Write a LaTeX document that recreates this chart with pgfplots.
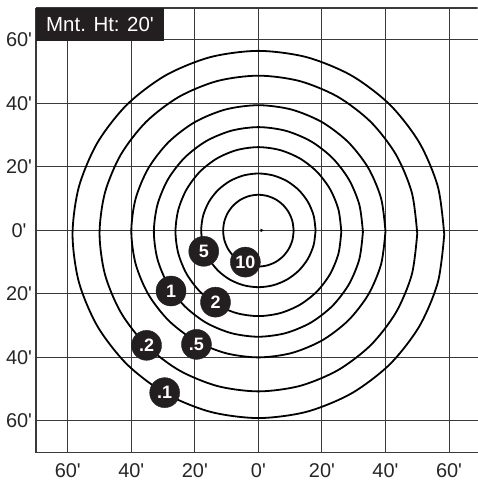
\documentclass[border=0pt]{standalone}
\usepackage{pgfplots}
\pgfplotsset{compat=1.18}
\usepackage{fontspec}
\setmainfont{Liberation Sans}[Ligatures=TeXOff]
\definecolor{gridc}{HTML}{3A3A3A}
\definecolor{boxc}{HTML}{231F20}
\begin{document}
\begin{tikzpicture}
\begin{axis}[
  name=ax,
  scale only axis,
  width=441.5bp, height=444.6bp,
  xmin=-70, xmax=69, ymin=-70, ymax=70,
  axis x line*=bottom, axis y line*=left,
  axis line style={gridc, line width=1.3bp},
  xtick={-60,-40,-20,0,20,40,60},
  ytick={-60,-40,-20,0,20,40,60},
  xticklabels={{60'},{40'},{20'},{0'},{20'},{40'},{60'}},
  yticklabels={{60'},{40'},{20'},{0'},{20'},{40'},{60'}},
  major tick length=0pt,
  grid=major,
  major grid style={gridc, line width=0.9bp},
  ticklabel style={font=\fontsize{20}{20}\selectfont, text=black!85},
  yticklabel style={anchor=center, inner sep=0pt, xshift=-17bp},
  xticklabel style={anchor=center, inner sep=0pt, yshift=-17.9bp},
  clip=true,
]
% contours (.1 .2 .5 1 2 5 10)
\addplot[black, line width=1.8bp, smooth] coordinates {
(58.5,-1.3) (56.51,13.66) (50.66,27.6) (41.37,39.57) (29.25,48.76) (15.14,54.53) (0,56.5)
(-15.14,54.53) (-29.25,48.76) (-41.37,39.57) (-50.66,27.6) (-56.51,13.66) (-58.5,-1.3)
(-56.51,-16.26) (-50.66,-30.2) (-41.37,-42.17) (-29.25,-51.36) (-15.14,-57.13) (0,-59.1)
(15.14,-57.13) (29.25,-51.36) (41.37,-42.17) (50.66,-30.2) (56.51,-16.26) (58.5,-1.3)};
\addplot[black, line width=1.8bp, smooth] coordinates {
(50,-1) (48.3,11.86) (43.3,23.85) (35.36,34.14) (25,42.04) (12.94,47.01) (0,48.7)
(-12.94,47.01) (-25,42.04) (-35.36,34.14) (-43.3,23.85) (-48.3,11.86) (-50,-1)
(-48.3,-13.86) (-43.3,-25.85) (-35.36,-36.14) (-25,-44.04) (-12.94,-49.01) (0,-50.7)
(12.94,-49.01) (25,-44.04) (35.36,-36.14) (43.3,-25.85) (48.3,-13.86) (50,-1)};
\addplot[black, line width=1.8bp, smooth] coordinates {
(40,-0.3) (38.64,9.97) (34.64,19.55) (28.28,27.77) (20,34.08) (10.35,38.05) (0,39.4)
(-10.35,38.05) (-20,34.08) (-28.28,27.77) (-34.64,19.55) (-38.64,9.97) (-40,-0.3)
(-38.64,-10.57) (-34.64,-20.15) (-28.28,-28.37) (-20,-34.68) (-10.35,-38.65) (0,-40)
(10.35,-38.65) (20,-34.68) (28.28,-28.37) (34.64,-20.15) (38.64,-10.57) (40,-0.3)};
\addplot[black, line width=1.8bp, smooth] coordinates {
(32.9,-0.5) (31.78,8.04) (28.49,16) (23.26,22.83) (16.45,28.08) (8.51,31.37) (0,32.5)
(-8.51,31.37) (-16.45,28.08) (-23.26,22.83) (-28.49,16) (-31.78,8.04) (-32.9,-0.5)
(-31.78,-9.04) (-28.49,-17) (-23.26,-23.83) (-16.45,-29.08) (-8.51,-32.37) (0,-33.5)
(8.51,-32.37) (16.45,-29.08) (23.26,-23.83) (28.49,-17) (31.78,-9.04) (32.9,-0.5)};
\addplot[black, line width=1.8bp, smooth] coordinates {
(26.1,-0.4) (25.21,6.48) (22.6,12.9) (18.46,18.41) (13.05,22.64) (6.75,25.29) (0,26.2)
(-6.75,25.29) (-13.05,22.64) (-18.46,18.41) (-22.6,12.9) (-25.21,6.48) (-26.1,-0.4)
(-25.21,-7.28) (-22.6,-13.7) (-18.46,-19.21) (-13.05,-23.44) (-6.75,-26.09) (0,-27)
(6.75,-26.09) (13.05,-23.44) (18.46,-19.21) (22.6,-13.7) (25.21,-7.28) (26.1,-0.4)};
\addplot[black, line width=1.8bp, smooth] coordinates {
(18,0) (17.39,4.63) (15.59,8.95) (12.73,12.66) (9,15.5) (4.66,17.29) (0,17.9)
(-4.66,17.29) (-9,15.5) (-12.73,12.66) (-15.59,8.95) (-17.39,4.63) (-18,0)
(-17.39,-4.63) (-15.59,-8.95) (-12.73,-12.66) (-9,-15.5) (-4.66,-17.29) (0,-17.9)
(4.66,-17.29) (9,-15.5) (12.73,-12.66) (15.59,-8.95) (17.39,-4.63) (18,0)};
\addplot[black, line width=1.8bp, smooth] coordinates {
(11.1,-0.1) (10.72,2.82) (9.61,5.55) (7.85,7.89) (5.55,9.69) (2.87,10.81) (0,11.2)
(-2.87,10.81) (-5.55,9.69) (-7.85,7.89) (-9.61,5.55) (-10.72,2.82) (-11.1,-0.1)
(-10.72,-3.02) (-9.61,-5.75) (-7.85,-8.09) (-5.55,-9.89) (-2.87,-11.01) (0,-11.4)
(2.87,-11.01) (5.55,-9.89) (7.85,-8.09) (9.61,-5.75) (10.72,-3.02) (11.1,-0.1)};
% luminaire mark
\addplot[only marks, mark=triangle*, mark size=1.6bp, mark options={rotate=-90, black}] coordinates {(1.0,0)};
% contour value badges
\addplot[only marks, mark=*, mark size=15bp, mark options={fill=boxc, draw=boxc},
  nodes near coords, point meta=explicit symbolic,
  nodes near coords style={anchor=center, text=white, inner sep=0pt,
    font=\bfseries\fontsize{18}{18}\selectfont}]
  coordinates {
  (-17.2,-6.6) [5]
  (-4.1,-10.0) [10]
  (-27.5,-19.1) [1]
  (-13.5,-22.6) [2]
  (-35.2,-36.2) [.2]
  (-19.5,-35.9) [.5]
  (-29.5,-51.1) [.1]
  };
% top frame line
\draw[gridc, line width=1.3bp] (rel axis cs:0,1) -- (rel axis cs:1,1);
% mounting height box
\fill[boxc] (rel axis cs:0,1) rectangle ([xshift=128bp,yshift=-33bp]rel axis cs:0,1);
\node[text=white, font=\fontsize{20.5}{20.5}\selectfont, inner sep=0pt]
  at ([xshift=64bp,yshift=-16.5bp]rel axis cs:0,1) {Mnt. Ht: 20'};
\end{axis}
\pgfresetboundingbox
\path ([xshift=-36bp,yshift=-29.3bp]ax.south west) rectangle ([yshift=8bp]ax.north east);
\end{tikzpicture}
\end{document}
